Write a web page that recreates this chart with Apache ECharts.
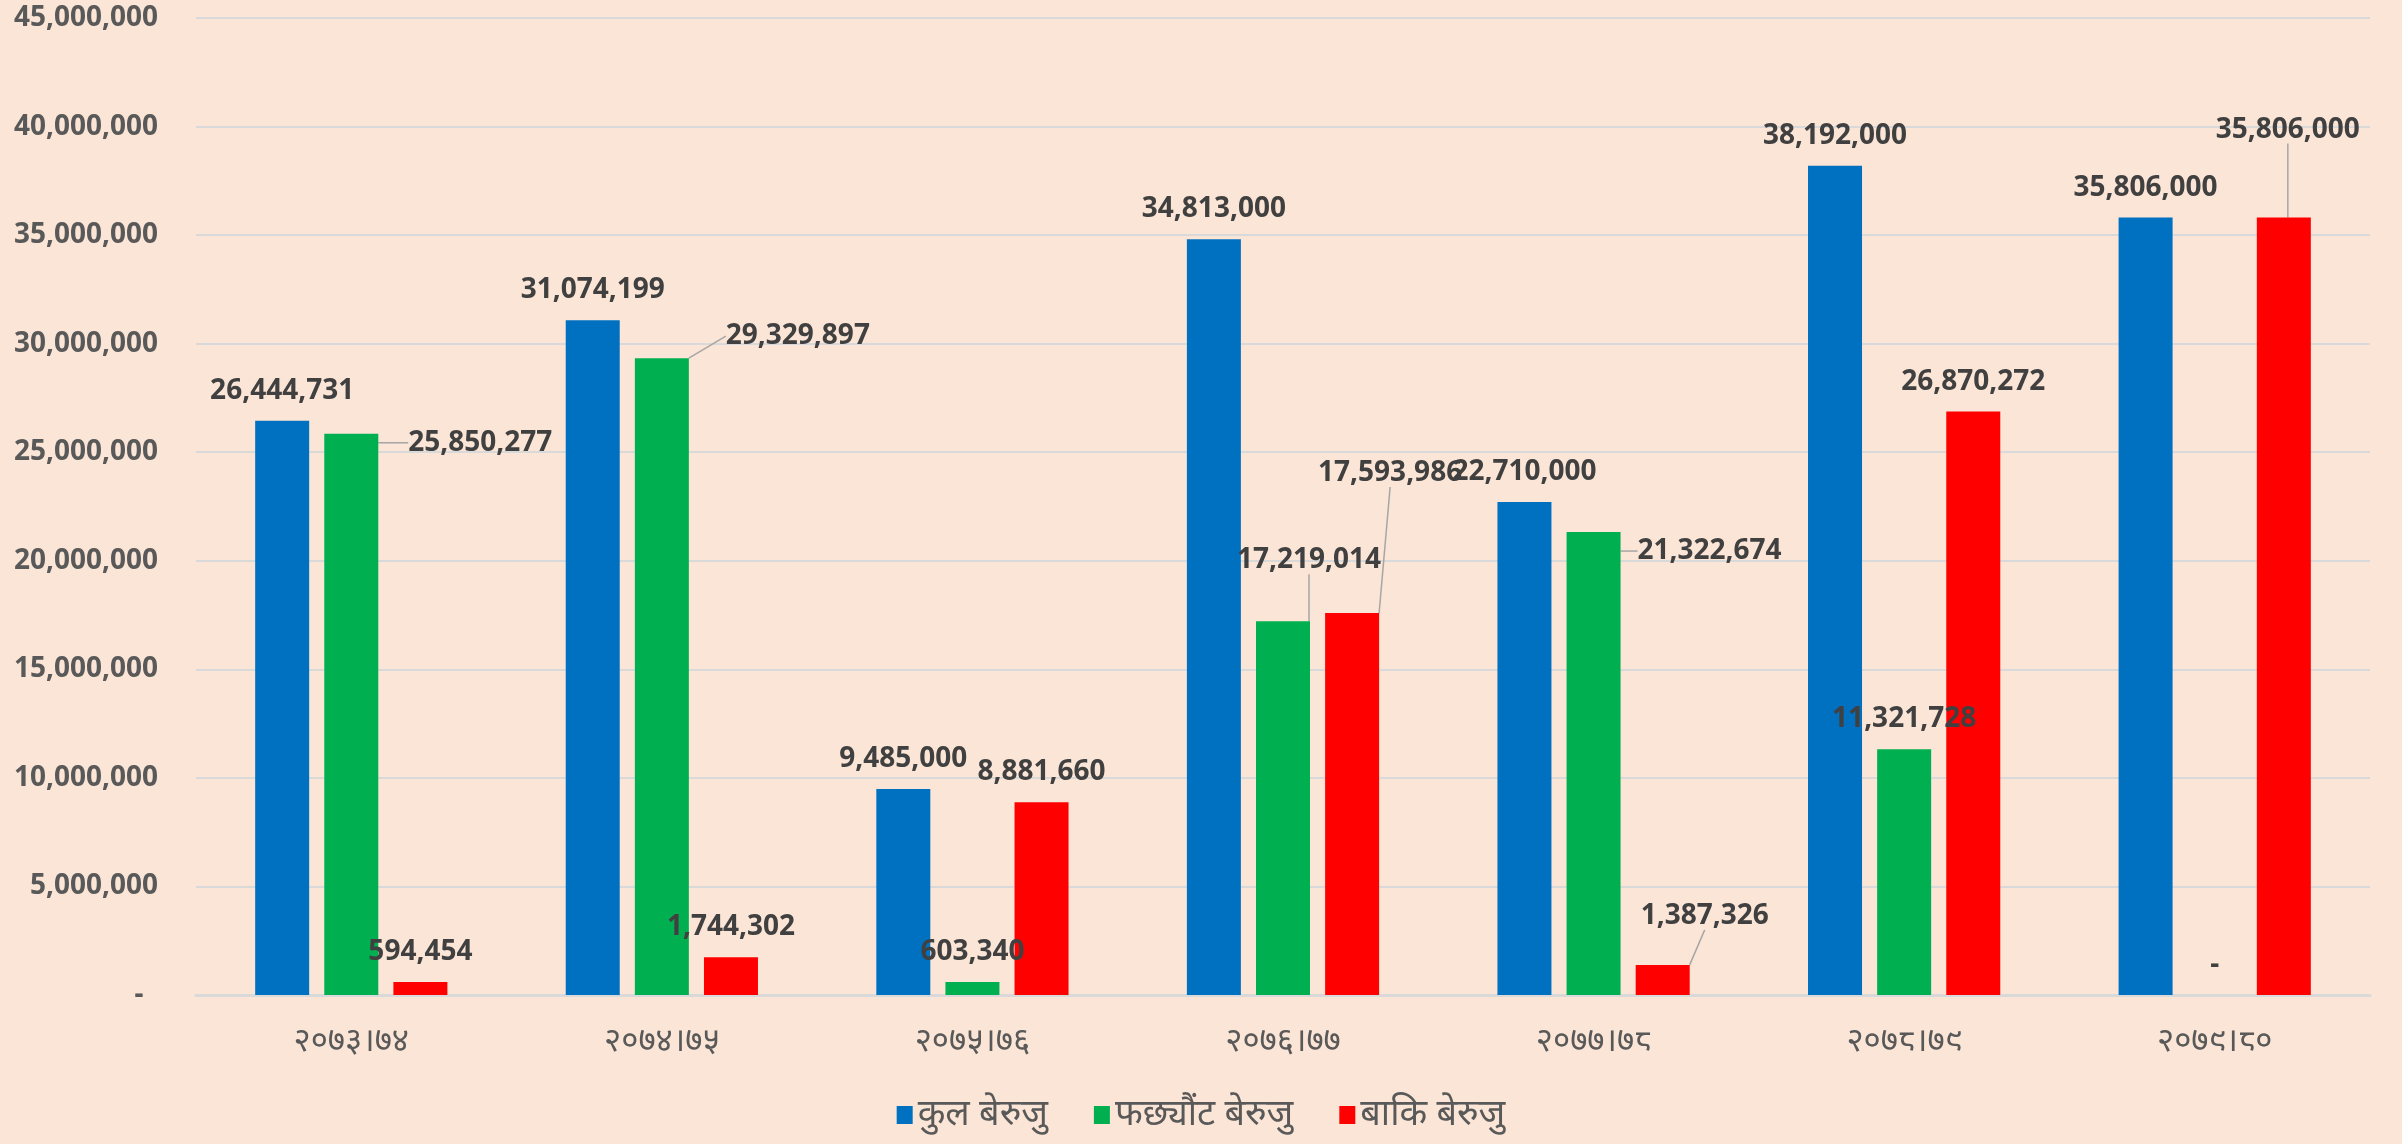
<!DOCTYPE html>
<html lang="ne">
<head>
  <meta charset="UTF-8">
  <title>बेरुजु विवरण</title>
  <script src="https://cdn.jsdelivr.net/npm/echarts@6/dist/echarts.min.js"></script>
  <style>
    html, body { margin: 0; padding: 0; background: #FBE5D6; }
    #main { width: 2402px; height: 1144px; }
  </style>
</head>
<body>
  <div id="main"></div>
  <script>
    // आर्थिक वर्ष
    const years = ['२०७३।७४', '२०७४।७५', '२०७५।७६', '२०७६।७७', '२०७७।७८', '२०७८।७९', '२०७९।८०'];
    const seriesNames = ['कुल बेरुजु', 'फछ्यौंट बेरुजु', 'बाकि बेरुजु'];
    const totalDue = [26444731, 31074199, 9485000, 34813000, 22710000, 38192000, 35806000];
    const settledDue = [25850277, 29329897, 603340, 17219014, 21322674, 11321728, 0];
    const remainingDue = [594454, 1744302, 8881660, 17593986, 1387326, 26870272, 35806000];
    const yTicks = [0, 5000000, 10000000, 15000000, 20000000, 25000000, 30000000, 35000000, 40000000, 45000000];

    // label shifts (px) from the default "top" spot, per series
    const shiftTotal = [[0, 0], [0, 0], [0, 0], [0, 0], [0, 0], [0, 0], [0, 0]];
    const shiftSettled = [[129, 39], [136, 8], [0, 0], [26, -31], [116, 49], [0, 0], [0, 0]];
    const shiftRemaining = [[0, 0], [0, 0], [0, 0], [38, -110], [42, -19], [0, 0], [4, -58]];

    const colors = ['#0070C0', '#00B050', '#FF0000'];
    const fmt = v => v === 0 ? '-' : v.toLocaleString('en-US');

    function makeSeries(idx, values, shifts) {
      return {
        name: seriesNames[idx],
        type: 'bar',
        barWidth: 54,
        barGap: '28%',
        itemStyle: { color: colors[idx] },
        data: values.map((v, i) => ({
          value: v,
          labelLine: { show: shifts[i][0] !== 0 || shifts[i][1] !== 0 }
        })),
        label: {
          show: true,
          position: 'top',
          distance: 16,
          formatter: p => fmt(p.value),
          fontFamily: '"Noto Sans", sans-serif',
          fontWeight: 'bold',
          fontSize: 28,
          color: '#404040'
        },
        labelLine: {
          lineStyle: { color: '#A6A6A6', width: 1.5 }
        },
        labelLayout: p => ({ dx: shifts[p.dataIndex][0], dy: shifts[p.dataIndex][1] })
      };
    }

    const chart = echarts.init(document.getElementById('main'));
    chart.setOption({
      backgroundColor: '#FBE5D6',
      animation: false,
      grid: { left: 196, right: 32, top: 18, bottom: 149 },
      legend: {
        bottom: 6,
        left: 'center',
        icon: 'rect',
        itemWidth: 16,
        itemHeight: 18,
        itemGap: 46,
        textStyle: { fontFamily: '"Noto Sans", sans-serif', fontSize: 36, color: '#595959' },
        data: seriesNames
      },
      xAxis: {
        type: 'category',
        data: years,
        axisLine: { lineStyle: { color: '#D9D9D9', width: 3 } },
        axisTick: { show: false },
        axisLabel: {
          margin: 30,
          fontFamily: '"Noto Sans", sans-serif',
          fontSize: 33,
          color: '#595959'
        }
      },
      yAxis: {
        type: 'value',
        min: yTicks[0],
        max: yTicks[yTicks.length - 1],
        interval: yTicks[1] - yTicks[0],
        axisLine: { show: false },
        axisTick: { show: false },
        splitLine: { lineStyle: { color: '#D9D9D9', width: 2 } },
        axisLabel: {
          margin: 38,
          formatter: v => v === 0 ? '-  ' : v.toLocaleString('en-US'),
          fontFamily: '"Noto Sans", sans-serif',
          fontWeight: 'bold',
          fontSize: 28,
          color: '#595959'
        }
      },
      series: [
        makeSeries(0, totalDue, shiftTotal),
        makeSeries(1, settledDue, shiftSettled),
        makeSeries(2, remainingDue, shiftRemaining)
      ]
    });
  </script>
</body>
</html>
